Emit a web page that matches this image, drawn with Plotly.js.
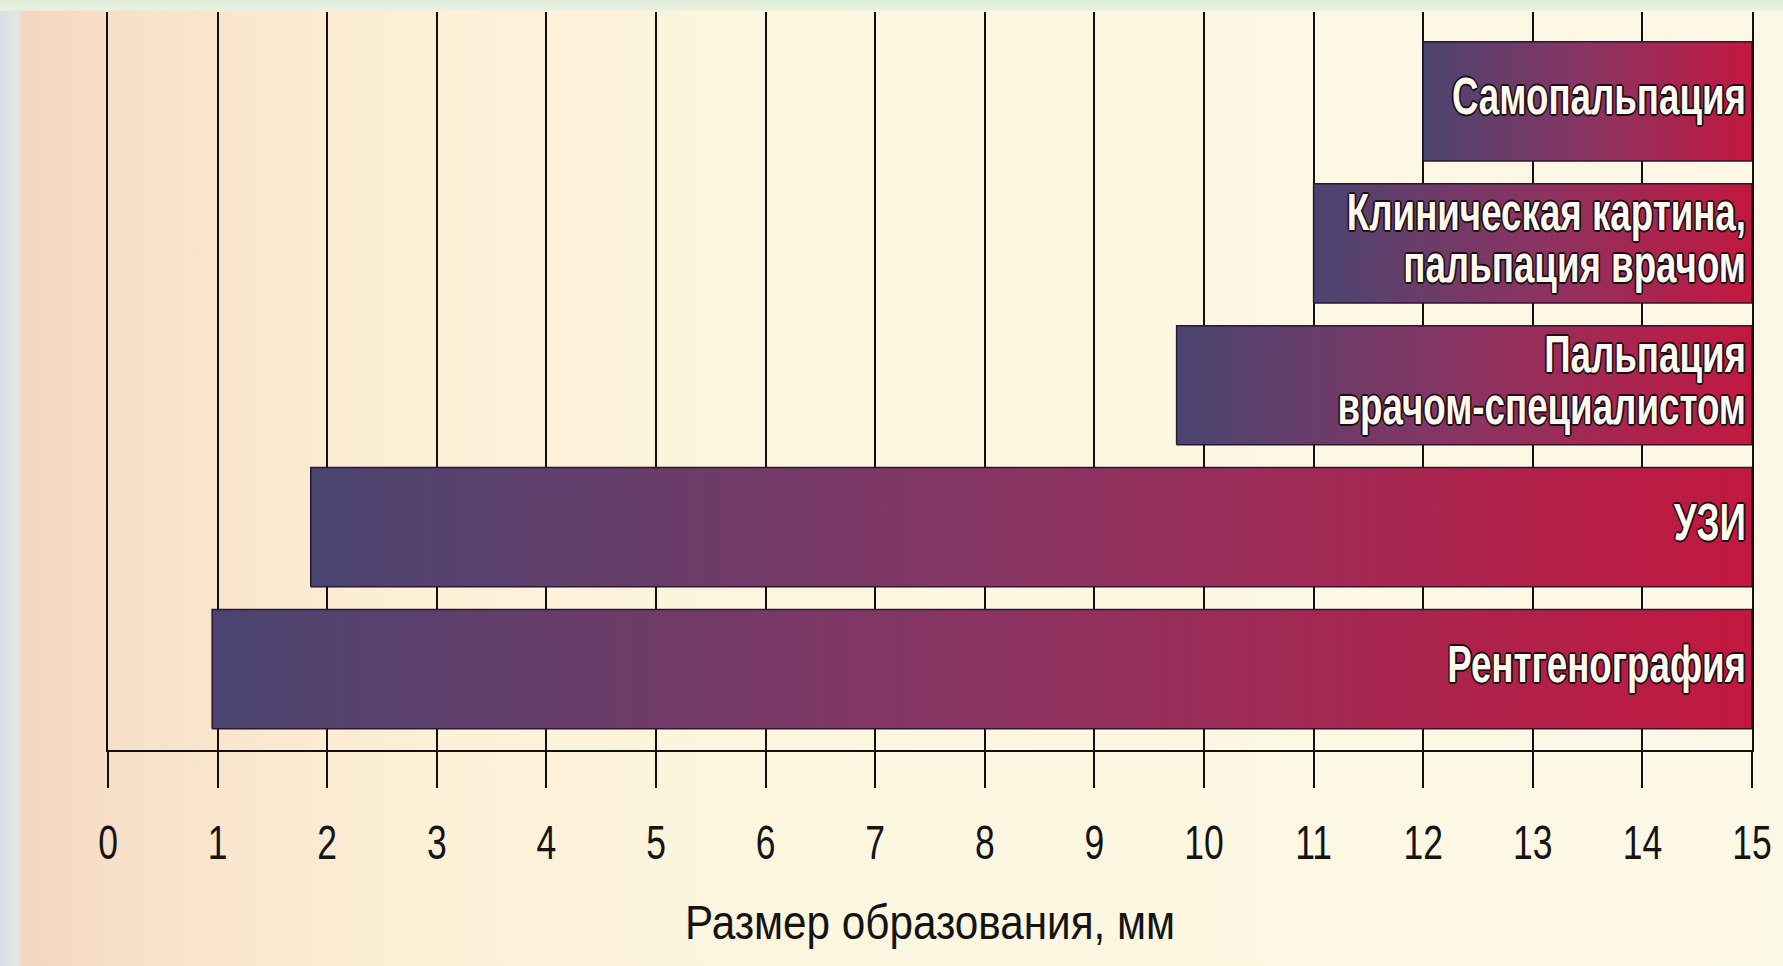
<!DOCTYPE html>
<html>
<head>
<meta charset="utf-8">
<script src="https://cdn.plot.ly/plotly-3.0.1.min.js"></script>
<style>
  html, body { margin: 0; padding: 0; }
  body {
    width: 1783px; height: 966px; overflow: hidden;
    background:
      linear-gradient(to bottom, #dcebd6 0px, #e9f2e2 10px, rgba(0,0,0,0) 11px),
      linear-gradient(to right, #d9e0e3 0px, #e4e6e2 18px, #f4d6c0 22px, #f8e0c8 120px, #fcefd6 400px, #fdf6df 800px, #fcf8e6 1783px);
  }
  #chart { width: 1783px; height: 966px; }
</style>
</head>
<body>
<div id="chart"></div>
<script>
// ---- data ----
const categories = [
  "Рентгенография",
  "УЗИ",
  "Пальпация<br>врачом-специалистом",
  "Клиническая картина,<br>пальпация врачом",
  "Самопальпация"
];
const startVals = [0.95, 1.85, 9.75, 11, 12];   // minimal detectable size, mm
const endVals   = [15, 15, 15, 15, 15];
const tickVals  = [0,1,2,3,4,5,6,7,8,9,10,11,12,13,14,15];
const xTitle = "Размер образования, мм";

// ---- style ----
const half = 0.42;
const gradScale = [[0, '#4a4470'], [0.5, '#8a3462'], [1, '#c2183f']];
const outline = '#1a0f14';
const labelFont = {
  family: "'Liberation Sans', Arial, sans-serif",
  size: 51, color: '#fffaf0', weight: 700,
  shadow: `2px 0 0 ${outline}, -2px 0 0 ${outline}, 0 2px 0 ${outline}, 0 -2px 0 ${outline}, 1px 1px 0 ${outline}, -1px -1px 0 ${outline}, 1px -1px 0 ${outline}, -1px 1px 0 ${outline}`
};

const traces = categories.map((c, i) => ({
  type: 'scatter', mode: 'lines',
  x: [startVals[i], endVals[i], endVals[i], startVals[i], startVals[i]],
  y: [i - half, i - half, i + half, i + half, i - half],
  fill: 'toself',
  fillgradient: { type: 'horizontal', colorscale: gradScale },
  line: { color: '#2a1830', width: 1.5 },
  hoverinfo: 'skip', showlegend: false
}));

traces.push({
  type: 'scatter', mode: 'text',
  x: endVals, y: categories.map((c, i) => i),
  text: categories,
  textposition: 'middle left',
  textfont: labelFont,
  hoverinfo: 'skip', showlegend: false
});

const layout = {
  width: 1783, height: 966,
  margin: { l: 108, r: 31, t: 12, b: 216 },
  paper_bgcolor: 'rgba(0,0,0,0)',
  plot_bgcolor: 'rgba(0,0,0,0)',
  showlegend: false,
  xaxis: {
    range: [0, 15],
    tickmode: 'array', tickvals: tickVals, ticktext: tickVals.map(String),
    showgrid: true, gridcolor: '#111', gridwidth: 2,
    zeroline: false,
    showline: true, linecolor: '#111', linewidth: 2,
    ticks: 'outside', ticklen: 36, tickwidth: 2, tickcolor: '#111',
    ticklabelstandoff: 13,
    tickfont: { family: "'Liberation Sans', Arial, sans-serif", size: 48, color: '#141414' },
    title: { text: xTitle, standoff: 38,
             font: { family: "'Liberation Sans', Arial, sans-serif", size: 48, color: '#141414' } },
    fixedrange: true
  },
  yaxis: {
    range: [-0.57, 4.63],
    showgrid: false, zeroline: false,
    showticklabels: false, ticks: '',
    showline: true, mirror: true, linecolor: '#111', linewidth: 2,
    fixedrange: true
  }
};

// condense text horizontally (the original uses a condensed typeface)
function condense(el, sx, anchor, lineEm, dx) {
  const bb0 = el.getBBox();
  if (lineEm) {
    const lines = el.querySelectorAll('tspan.line');
    for (let k = 1; k < lines.length; k++) lines[k].setAttribute('dy', lineEm + 'em');
  }
  const bb1 = el.getBBox();
  const ax0 = (anchor === 'end' ? bb0.x + bb0.width : bb0.x + bb0.width / 2) + (dx || 0);
  const ax1 = anchor === 'end' ? bb1.x + bb1.width : bb1.x + bb1.width / 2;
  const cy0 = bb0.y + bb0.height / 2, cy1 = bb1.y + bb1.height / 2;
  const t = el.getAttribute('transform') || '';
  el.setAttribute('transform',
    `${t} translate(${ax0},${cy0}) scale(${sx},1) translate(${-ax1},${-cy1})`);
}

Plotly.newPlot('chart', traces, layout, { displayModeBar: false, staticPlot: true }).then(gd => {
  try {
    gd.querySelectorAll('.scatterlayer .textpoint text').forEach(el => condense(el, 0.72, 'end', 1.02, -6));
    gd.querySelectorAll('.xtick text').forEach(el => condense(el, 0.74, 'middle'));
    gd.querySelectorAll('.g-xtitle text').forEach(el => condense(el, 0.88, 'middle'));
  } catch (e) { console.log(e); }
});
</script>
</body>
</html>
